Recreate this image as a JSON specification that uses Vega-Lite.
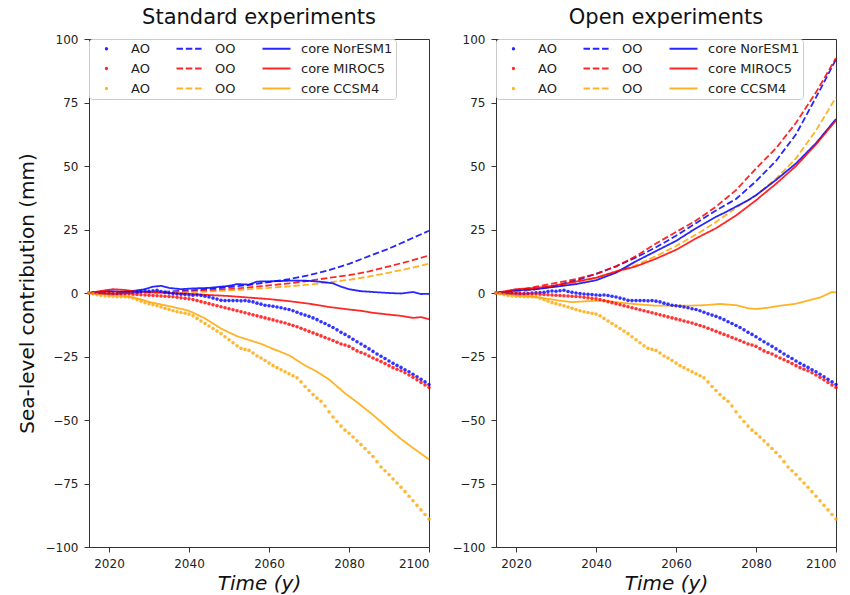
{
"$schema": "https://vega.github.io/schema/vega-lite/v6.json",
"padding": {"left": 16, "top": 6, "right": 10, "bottom": 4},
"bounds": "flush",
"spacing": 67,
"resolve": {"scale": {"color": "independent", "strokeDash": "independent"}, "legend": {"color": "independent"}},
"config": {
  "font": "DejaVu Sans",
  "view": {"stroke": "#333", "strokeWidth": 1},
  "axis": {"grid": false, "domainColor": "#333", "tickColor": "#333", "labelColor": "#222", "labelFont": "DejaVu Sans", "labelFontSize": 12, "tickSize": 5, "labelPadding": 6, "titleFont": "DejaVu Sans", "titleFontSize": 20, "titleFontWeight": "normal", "titleColor": "#111"},
  "title": {"fontSize": 21, "fontWeight": "normal", "font": "DejaVu Sans", "color": "#111", "offset": 5},
  "legend": {"title": null, "orient": "top-left", "offset": 0, "columns": 3, "columnPadding": 22, "rowPadding": 6, "labelFontSize": 13, "labelFont": "DejaVu Sans", "labelColor": "#222", "labelOffset": 18, "symbolSize": 100, "symbolOffset": 8, "symbolStrokeWidth": 1.8, "symbolOpacity": 0.85, "padding": 3, "fillColor": "white", "strokeColor": "#cccccc", "cornerRadius": 3}
},
"datasets": {
"ao": [
{"k":"bA","t":2015,"v":0},{"k":"bA","t":2016,"v":0},{"k":"bA","t":2017,"v":-0.2},{"k":"bA","t":2018,"v":-0.3},{"k":"bA","t":2019,"v":-0.2},{"k":"bA","t":2020,"v":-0.3},{"k":"bA","t":2021,"v":-0.4},{"k":"bA","t":2022,"v":-0.3},{"k":"bA","t":2023,"v":-0.2},{"k":"bA","t":2024,"v":0},{"k":"bA","t":2025,"v":0.1},{"k":"bA","t":2026,"v":0.2},{"k":"bA","t":2027,"v":0.3},{"k":"bA","t":2028,"v":0.6},{"k":"bA","t":2029,"v":0.8},{"k":"bA","t":2030,"v":0.7},{"k":"bA","t":2031,"v":0.9},{"k":"bA","t":2032,"v":1.1},{"k":"bA","t":2033,"v":0.6},{"k":"bA","t":2034,"v":0.3},{"k":"bA","t":2035,"v":0},{"k":"bA","t":2036,"v":-0.2},{"k":"bA","t":2037,"v":-0.4},{"k":"bA","t":2038,"v":-0.5},{"k":"bA","t":2039,"v":-0.6},{"k":"bA","t":2040,"v":-0.8},{"k":"bA","t":2041,"v":-0.9},{"k":"bA","t":2042,"v":-0.8},{"k":"bA","t":2043,"v":-1.0},{"k":"bA","t":2044,"v":-1.3},{"k":"bA","t":2045,"v":-1.6},{"k":"bA","t":2046,"v":-2.0},{"k":"bA","t":2047,"v":-2.4},{"k":"bA","t":2048,"v":-2.9},{"k":"bA","t":2049,"v":-3.0},{"k":"bA","t":2050,"v":-3.0},{"k":"bA","t":2051,"v":-3.0},{"k":"bA","t":2052,"v":-3.0},{"k":"bA","t":2053,"v":-3.1},{"k":"bA","t":2054,"v":-3.0},{"k":"bA","t":2055,"v":-3.2},{"k":"bA","t":2056,"v":-3.5},{"k":"bA","t":2057,"v":-4.0},{"k":"bA","t":2058,"v":-4.4},{"k":"bA","t":2059,"v":-4.8},{"k":"bA","t":2060,"v":-5.0},{"k":"bA","t":2061,"v":-5.2},{"k":"bA","t":2062,"v":-5.5},{"k":"bA","t":2063,"v":-5.8},{"k":"bA","t":2064,"v":-6.2},{"k":"bA","t":2065,"v":-6.5},{"k":"bA","t":2066,"v":-7.0},{"k":"bA","t":2067,"v":-7.6},{"k":"bA","t":2068,"v":-8.2},{"k":"bA","t":2069,"v":-8.7},{"k":"bA","t":2070,"v":-9.2},{"k":"bA","t":2071,"v":-9.8},{"k":"bA","t":2072,"v":-10.5},{"k":"bA","t":2073,"v":-11.3},{"k":"bA","t":2074,"v":-12.0},{"k":"bA","t":2075,"v":-12.8},{"k":"bA","t":2076,"v":-13.6},{"k":"bA","t":2077,"v":-14.5},{"k":"bA","t":2078,"v":-15.5},{"k":"bA","t":2079,"v":-16.3},{"k":"bA","t":2080,"v":-17.2},{"k":"bA","t":2081,"v":-18.2},{"k":"bA","t":2082,"v":-19.2},{"k":"bA","t":2083,"v":-20.1},{"k":"bA","t":2084,"v":-21.0},{"k":"bA","t":2085,"v":-22.0},{"k":"bA","t":2086,"v":-23.0},{"k":"bA","t":2087,"v":-24.0},{"k":"bA","t":2088,"v":-24.9},{"k":"bA","t":2089,"v":-25.8},{"k":"bA","t":2090,"v":-26.8},{"k":"bA","t":2091,"v":-27.7},{"k":"bA","t":2092,"v":-28.5},{"k":"bA","t":2093,"v":-29.3},{"k":"bA","t":2094,"v":-30.2},{"k":"bA","t":2095,"v":-31.0},{"k":"bA","t":2096,"v":-32.0},{"k":"bA","t":2097,"v":-33.0},{"k":"bA","t":2098,"v":-34.0},{"k":"bA","t":2099,"v":-35.0},{"k":"bA","t":2100,"v":-36.0},
{"k":"rA","t":2015,"v":0},{"k":"rA","t":2016,"v":0},{"k":"rA","t":2017,"v":0},{"k":"rA","t":2018,"v":-0.1},{"k":"rA","t":2019,"v":-0.1},{"k":"rA","t":2020,"v":-0.2},{"k":"rA","t":2021,"v":-0.2},{"k":"rA","t":2022,"v":-0.3},{"k":"rA","t":2023,"v":-0.3},{"k":"rA","t":2024,"v":-0.4},{"k":"rA","t":2025,"v":-0.4},{"k":"rA","t":2026,"v":-0.5},{"k":"rA","t":2027,"v":-0.6},{"k":"rA","t":2028,"v":-0.7},{"k":"rA","t":2029,"v":-0.8},{"k":"rA","t":2030,"v":-0.9},{"k":"rA","t":2031,"v":-1.0},{"k":"rA","t":2032,"v":-1.1},{"k":"rA","t":2033,"v":-1.2},{"k":"rA","t":2034,"v":-1.3},{"k":"rA","t":2035,"v":-1.4},{"k":"rA","t":2036,"v":-1.5},{"k":"rA","t":2037,"v":-1.7},{"k":"rA","t":2038,"v":-1.9},{"k":"rA","t":2039,"v":-2.1},{"k":"rA","t":2040,"v":-2.3},{"k":"rA","t":2041,"v":-2.6},{"k":"rA","t":2042,"v":-3.0},{"k":"rA","t":2043,"v":-3.4},{"k":"rA","t":2044,"v":-3.8},{"k":"rA","t":2045,"v":-4.2},{"k":"rA","t":2046,"v":-4.6},{"k":"rA","t":2047,"v":-5.0},{"k":"rA","t":2048,"v":-5.4},{"k":"rA","t":2049,"v":-5.8},{"k":"rA","t":2050,"v":-6.2},{"k":"rA","t":2051,"v":-6.6},{"k":"rA","t":2052,"v":-7.0},{"k":"rA","t":2053,"v":-7.4},{"k":"rA","t":2054,"v":-7.8},{"k":"rA","t":2055,"v":-8.2},{"k":"rA","t":2056,"v":-8.6},{"k":"rA","t":2057,"v":-9.0},{"k":"rA","t":2058,"v":-9.4},{"k":"rA","t":2059,"v":-9.8},{"k":"rA","t":2060,"v":-10.2},{"k":"rA","t":2061,"v":-10.6},{"k":"rA","t":2062,"v":-11.0},{"k":"rA","t":2063,"v":-11.4},{"k":"rA","t":2064,"v":-11.8},{"k":"rA","t":2065,"v":-12.3},{"k":"rA","t":2066,"v":-12.8},{"k":"rA","t":2067,"v":-13.3},{"k":"rA","t":2068,"v":-13.9},{"k":"rA","t":2069,"v":-14.5},{"k":"rA","t":2070,"v":-15.1},{"k":"rA","t":2071,"v":-15.7},{"k":"rA","t":2072,"v":-16.3},{"k":"rA","t":2073,"v":-16.9},{"k":"rA","t":2074,"v":-17.5},{"k":"rA","t":2075,"v":-18.1},{"k":"rA","t":2076,"v":-18.7},{"k":"rA","t":2077,"v":-19.4},{"k":"rA","t":2078,"v":-20.1},{"k":"rA","t":2079,"v":-20.5},{"k":"rA","t":2080,"v":-21.0},{"k":"rA","t":2081,"v":-21.9},{"k":"rA","t":2082,"v":-22.8},{"k":"rA","t":2083,"v":-23.4},{"k":"rA","t":2084,"v":-24.0},{"k":"rA","t":2085,"v":-24.8},{"k":"rA","t":2086,"v":-25.6},{"k":"rA","t":2087,"v":-26.3},{"k":"rA","t":2088,"v":-27.0},{"k":"rA","t":2089,"v":-27.8},{"k":"rA","t":2090,"v":-28.6},{"k":"rA","t":2091,"v":-29.4},{"k":"rA","t":2092,"v":-30.0},{"k":"rA","t":2093,"v":-30.6},{"k":"rA","t":2094,"v":-31.4},{"k":"rA","t":2095,"v":-32.3},{"k":"rA","t":2096,"v":-33.2},{"k":"rA","t":2097,"v":-34.2},{"k":"rA","t":2098,"v":-35.2},{"k":"rA","t":2099,"v":-36.2},{"k":"rA","t":2100,"v":-37.2},
{"k":"oA","t":2015,"v":0},{"k":"oA","t":2016,"v":-0.3},{"k":"oA","t":2017,"v":-0.7},{"k":"oA","t":2018,"v":-1.0},{"k":"oA","t":2019,"v":-1.2},{"k":"oA","t":2020,"v":-1.3},{"k":"oA","t":2021,"v":-1.4},{"k":"oA","t":2022,"v":-1.5},{"k":"oA","t":2023,"v":-1.5},{"k":"oA","t":2024,"v":-1.5},{"k":"oA","t":2025,"v":-1.6},{"k":"oA","t":2026,"v":-2.0},{"k":"oA","t":2027,"v":-2.6},{"k":"oA","t":2028,"v":-3.2},{"k":"oA","t":2029,"v":-3.8},{"k":"oA","t":2030,"v":-4.2},{"k":"oA","t":2031,"v":-4.6},{"k":"oA","t":2032,"v":-5.0},{"k":"oA","t":2033,"v":-5.5},{"k":"oA","t":2034,"v":-6.0},{"k":"oA","t":2035,"v":-6.5},{"k":"oA","t":2036,"v":-7.0},{"k":"oA","t":2037,"v":-7.4},{"k":"oA","t":2038,"v":-7.7},{"k":"oA","t":2039,"v":-8.0},{"k":"oA","t":2040,"v":-8.3},{"k":"oA","t":2041,"v":-9.0},{"k":"oA","t":2042,"v":-10.0},{"k":"oA","t":2043,"v":-11.0},{"k":"oA","t":2044,"v":-12.0},{"k":"oA","t":2045,"v":-13.0},{"k":"oA","t":2046,"v":-14.0},{"k":"oA","t":2047,"v":-15.0},{"k":"oA","t":2048,"v":-16.0},{"k":"oA","t":2049,"v":-17.2},{"k":"oA","t":2050,"v":-18.4},{"k":"oA","t":2051,"v":-19.6},{"k":"oA","t":2052,"v":-20.8},{"k":"oA","t":2053,"v":-21.8},{"k":"oA","t":2054,"v":-22.2},{"k":"oA","t":2055,"v":-22.6},{"k":"oA","t":2056,"v":-23.6},{"k":"oA","t":2057,"v":-24.8},{"k":"oA","t":2058,"v":-25.6},{"k":"oA","t":2059,"v":-26.6},{"k":"oA","t":2060,"v":-27.6},{"k":"oA","t":2061,"v":-28.6},{"k":"oA","t":2062,"v":-29.4},{"k":"oA","t":2063,"v":-30.2},{"k":"oA","t":2064,"v":-31.0},{"k":"oA","t":2065,"v":-31.8},{"k":"oA","t":2066,"v":-32.6},{"k":"oA","t":2067,"v":-33.4},{"k":"oA","t":2068,"v":-35.0},{"k":"oA","t":2069,"v":-36.8},{"k":"oA","t":2070,"v":-38.4},{"k":"oA","t":2071,"v":-40.0},{"k":"oA","t":2072,"v":-41.4},{"k":"oA","t":2073,"v":-42.6},{"k":"oA","t":2074,"v":-44.5},{"k":"oA","t":2075,"v":-46.8},{"k":"oA","t":2076,"v":-48.8},{"k":"oA","t":2077,"v":-50.6},{"k":"oA","t":2078,"v":-52.4},{"k":"oA","t":2079,"v":-54.0},{"k":"oA","t":2080,"v":-55.2},{"k":"oA","t":2081,"v":-56.7},{"k":"oA","t":2082,"v":-58.2},{"k":"oA","t":2083,"v":-59.7},{"k":"oA","t":2084,"v":-61.2},{"k":"oA","t":2085,"v":-62.8},{"k":"oA","t":2086,"v":-64.4},{"k":"oA","t":2087,"v":-66.4},{"k":"oA","t":2088,"v":-68.5},{"k":"oA","t":2089,"v":-70.0},{"k":"oA","t":2090,"v":-71.5},{"k":"oA","t":2091,"v":-73.2},{"k":"oA","t":2092,"v":-74.8},{"k":"oA","t":2093,"v":-76.5},{"k":"oA","t":2094,"v":-78.2},{"k":"oA","t":2095,"v":-80.0},{"k":"oA","t":2096,"v":-81.8},{"k":"oA","t":2097,"v":-83.6},{"k":"oA","t":2098,"v":-85.4},{"k":"oA","t":2099,"v":-87.2},{"k":"oA","t":2100,"v":-89.0}
],
"std": [
{"k":"bO","t":2015,"v":0},{"k":"bO","t":2020,"v":0},{"k":"bO","t":2025,"v":0.2},{"k":"bO","t":2030,"v":0.4},{"k":"bO","t":2035,"v":0.6},{"k":"bO","t":2040,"v":1},{"k":"bO","t":2045,"v":1.5},{"k":"bO","t":2050,"v":2.3},{"k":"bO","t":2055,"v":3.2},{"k":"bO","t":2060,"v":4.3},{"k":"bO","t":2065,"v":5.5},{"k":"bO","t":2070,"v":7},{"k":"bO","t":2075,"v":9},{"k":"bO","t":2080,"v":11.5},{"k":"bO","t":2085,"v":14.5},{"k":"bO","t":2090,"v":17.5},{"k":"bO","t":2095,"v":21},{"k":"bO","t":2100,"v":24.5},
{"k":"rO","t":2015,"v":0},{"k":"rO","t":2020,"v":0.1},{"k":"rO","t":2025,"v":0.2},{"k":"rO","t":2030,"v":0.3},{"k":"rO","t":2035,"v":0.4},{"k":"rO","t":2040,"v":0.6},{"k":"rO","t":2045,"v":1},{"k":"rO","t":2050,"v":1.5},{"k":"rO","t":2055,"v":2.2},{"k":"rO","t":2060,"v":3},{"k":"rO","t":2065,"v":3.8},{"k":"rO","t":2070,"v":4.8},{"k":"rO","t":2075,"v":6},{"k":"rO","t":2080,"v":7},{"k":"rO","t":2085,"v":8.5},{"k":"rO","t":2090,"v":10.5},{"k":"rO","t":2095,"v":12.5},{"k":"rO","t":2100,"v":14.8},
{"k":"oO","t":2015,"v":0},{"k":"oO","t":2020,"v":0},{"k":"oO","t":2025,"v":0.1},{"k":"oO","t":2030,"v":0.2},{"k":"oO","t":2035,"v":0.2},{"k":"oO","t":2040,"v":0.3},{"k":"oO","t":2045,"v":0.6},{"k":"oO","t":2050,"v":1},{"k":"oO","t":2055,"v":1.5},{"k":"oO","t":2060,"v":2},{"k":"oO","t":2065,"v":2.6},{"k":"oO","t":2070,"v":3.3},{"k":"oO","t":2075,"v":4.2},{"k":"oO","t":2080,"v":5.2},{"k":"oO","t":2085,"v":6.5},{"k":"oO","t":2090,"v":8},{"k":"oO","t":2095,"v":9.7},{"k":"oO","t":2100,"v":11.5},
{"k":"bC","t":2015,"v":0},{"k":"bC","t":2018,"v":0.5},{"k":"bC","t":2020,"v":0.8},{"k":"bC","t":2023,"v":0.5},{"k":"bC","t":2026,"v":0.8},{"k":"bC","t":2029,"v":1.5},{"k":"bC","t":2031,"v":2.5},{"k":"bC","t":2033,"v":2.8},{"k":"bC","t":2035,"v":2},{"k":"bC","t":2038,"v":1.5},{"k":"bC","t":2041,"v":1.8},{"k":"bC","t":2045,"v":2},{"k":"bC","t":2048,"v":2.5},{"k":"bC","t":2050,"v":2.8},{"k":"bC","t":2052,"v":3.5},{"k":"bC","t":2055,"v":3.3},{"k":"bC","t":2057,"v":4.5},{"k":"bC","t":2060,"v":4.6},{"k":"bC","t":2063,"v":4.7},{"k":"bC","t":2066,"v":4.9},{"k":"bC","t":2070,"v":4.8},{"k":"bC","t":2073,"v":4.4},{"k":"bC","t":2076,"v":3.8},{"k":"bC","t":2078,"v":2.5},{"k":"bC","t":2080,"v":1.5},{"k":"bC","t":2083,"v":0.7},{"k":"bC","t":2086,"v":0.4},{"k":"bC","t":2090,"v":0},{"k":"bC","t":2093,"v":-0.2},{"k":"bC","t":2096,"v":0.4},{"k":"bC","t":2098,"v":-0.4},{"k":"bC","t":2100,"v":-0.3},
{"k":"rC","t":2015,"v":0},{"k":"rC","t":2018,"v":0.8},{"k":"rC","t":2021,"v":1.5},{"k":"rC","t":2024,"v":1.2},{"k":"rC","t":2027,"v":0.5},{"k":"rC","t":2030,"v":0.3},{"k":"rC","t":2035,"v":0},{"k":"rC","t":2040,"v":-0.3},{"k":"rC","t":2045,"v":-0.8},{"k":"rC","t":2050,"v":-1.2},{"k":"rC","t":2055,"v":-1.8},{"k":"rC","t":2060,"v":-2.4},{"k":"rC","t":2065,"v":-3.2},{"k":"rC","t":2070,"v":-4.2},{"k":"rC","t":2075,"v":-5.5},{"k":"rC","t":2080,"v":-6.5},{"k":"rC","t":2083,"v":-7},{"k":"rC","t":2086,"v":-7.8},{"k":"rC","t":2090,"v":-8.5},{"k":"rC","t":2093,"v":-9},{"k":"rC","t":2096,"v":-9.8},{"k":"rC","t":2098,"v":-9.5},{"k":"rC","t":2100,"v":-10.3},
{"k":"oC","t":2015,"v":0},{"k":"oC","t":2018,"v":-0.3},{"k":"oC","t":2020,"v":-0.8},{"k":"oC","t":2023,"v":-1},{"k":"oC","t":2026,"v":-1.8},{"k":"oC","t":2028,"v":-2.5},{"k":"oC","t":2030,"v":-3.5},{"k":"oC","t":2033,"v":-4.5},{"k":"oC","t":2036,"v":-5.5},{"k":"oC","t":2040,"v":-7},{"k":"oC","t":2044,"v":-10},{"k":"oC","t":2048,"v":-14},{"k":"oC","t":2052,"v":-17},{"k":"oC","t":2055,"v":-18.5},{"k":"oC","t":2058,"v":-20},{"k":"oC","t":2061,"v":-22},{"k":"oC","t":2065,"v":-24.5},{"k":"oC","t":2069,"v":-28.5},{"k":"oC","t":2072,"v":-31},{"k":"oC","t":2075,"v":-34},{"k":"oC","t":2079,"v":-39.5},{"k":"oC","t":2082,"v":-43},{"k":"oC","t":2086,"v":-48},{"k":"oC","t":2090,"v":-53.5},{"k":"oC","t":2093,"v":-57.5},{"k":"oC","t":2096,"v":-61},{"k":"oC","t":2100,"v":-65.5}
],
"open": [
{"k":"bO","t":2015,"v":0},{"k":"bO","t":2020,"v":0.5},{"k":"bO","t":2025,"v":1.5},{"k":"bO","t":2030,"v":3},{"k":"bO","t":2035,"v":5},{"k":"bO","t":2040,"v":7.5},{"k":"bO","t":2045,"v":10.5},{"k":"bO","t":2050,"v":14},{"k":"bO","t":2055,"v":18},{"k":"bO","t":2060,"v":22.5},{"k":"bO","t":2065,"v":27.5},{"k":"bO","t":2070,"v":32.5},{"k":"bO","t":2075,"v":37},{"k":"bO","t":2080,"v":44},{"k":"bO","t":2085,"v":52},{"k":"bO","t":2090,"v":62.5},{"k":"bO","t":2095,"v":77},{"k":"bO","t":2100,"v":92},
{"k":"rO","t":2015,"v":0},{"k":"rO","t":2020,"v":1},{"k":"rO","t":2025,"v":2.5},{"k":"rO","t":2030,"v":4},{"k":"rO","t":2035,"v":5.5},{"k":"rO","t":2040,"v":7.5},{"k":"rO","t":2045,"v":10.5},{"k":"rO","t":2050,"v":14.5},{"k":"rO","t":2055,"v":19.5},{"k":"rO","t":2060,"v":24},{"k":"rO","t":2065,"v":28.5},{"k":"rO","t":2070,"v":34},{"k":"rO","t":2075,"v":40.5},{"k":"rO","t":2080,"v":49},{"k":"rO","t":2085,"v":57},{"k":"rO","t":2090,"v":67},{"k":"rO","t":2095,"v":79},{"k":"rO","t":2100,"v":92.5},
{"k":"oO","t":2015,"v":0},{"k":"oO","t":2020,"v":0.5},{"k":"oO","t":2025,"v":1.5},{"k":"oO","t":2030,"v":2.5},{"k":"oO","t":2035,"v":4},{"k":"oO","t":2040,"v":6},{"k":"oO","t":2045,"v":8},{"k":"oO","t":2050,"v":11},{"k":"oO","t":2055,"v":14.5},{"k":"oO","t":2060,"v":18.5},{"k":"oO","t":2065,"v":23},{"k":"oO","t":2070,"v":28},{"k":"oO","t":2075,"v":33.5},{"k":"oO","t":2080,"v":38.5},{"k":"oO","t":2085,"v":45},{"k":"oO","t":2090,"v":53},{"k":"oO","t":2095,"v":64},{"k":"oO","t":2100,"v":77},
{"k":"bC","t":2015,"v":0},{"k":"bC","t":2020,"v":1},{"k":"bC","t":2025,"v":1.5},{"k":"bC","t":2030,"v":2.5},{"k":"bC","t":2035,"v":3.5},{"k":"bC","t":2040,"v":5},{"k":"bC","t":2045,"v":8},{"k":"bC","t":2050,"v":12.5},{"k":"bC","t":2055,"v":16.5},{"k":"bC","t":2060,"v":20.5},{"k":"bC","t":2065,"v":25.5},{"k":"bC","t":2070,"v":30},{"k":"bC","t":2072,"v":31.5},{"k":"bC","t":2075,"v":34},{"k":"bC","t":2078,"v":36.5},{"k":"bC","t":2080,"v":38.5},{"k":"bC","t":2085,"v":44.5},{"k":"bC","t":2090,"v":51},{"k":"bC","t":2095,"v":59},{"k":"bC","t":2100,"v":68.5},
{"k":"rC","t":2015,"v":0},{"k":"rC","t":2020,"v":1.5},{"k":"rC","t":2025,"v":2},{"k":"rC","t":2030,"v":3},{"k":"rC","t":2035,"v":4.5},{"k":"rC","t":2040,"v":6},{"k":"rC","t":2045,"v":8.5},{"k":"rC","t":2050,"v":10.5},{"k":"rC","t":2055,"v":13.5},{"k":"rC","t":2060,"v":17},{"k":"rC","t":2065,"v":21.5},{"k":"rC","t":2070,"v":25.5},{"k":"rC","t":2075,"v":30.5},{"k":"rC","t":2080,"v":36.5},{"k":"rC","t":2085,"v":43},{"k":"rC","t":2090,"v":50},{"k":"rC","t":2095,"v":58.5},{"k":"rC","t":2100,"v":68},
{"k":"oC","t":2015,"v":0},{"k":"oC","t":2018,"v":-0.5},{"k":"oC","t":2020,"v":-1},{"k":"oC","t":2023,"v":-1.2},{"k":"oC","t":2026,"v":-1.8},{"k":"oC","t":2030,"v":-2.8},{"k":"oC","t":2034,"v":-3.6},{"k":"oC","t":2038,"v":-3.2},{"k":"oC","t":2042,"v":-3},{"k":"oC","t":2046,"v":-3.8},{"k":"oC","t":2050,"v":-4.4},{"k":"oC","t":2055,"v":-5},{"k":"oC","t":2060,"v":-5},{"k":"oC","t":2063,"v":-5},{"k":"oC","t":2067,"v":-4.8},{"k":"oC","t":2071,"v":-4.3},{"k":"oC","t":2075,"v":-4.8},{"k":"oC","t":2078,"v":-6},{"k":"oC","t":2080,"v":-6.3},{"k":"oC","t":2083,"v":-5.8},{"k":"oC","t":2086,"v":-5},{"k":"oC","t":2090,"v":-4.2},{"k":"oC","t":2093,"v":-3},{"k":"oC","t":2096,"v":-1.8},{"k":"oC","t":2099,"v":0.4},{"k":"oC","t":2100,"v":0.2}
]
},
"hconcat": [
{
 "title": "Standard experiments",
 "width": 340, "height": 508,
 "layer": [
  {
   "data": {"name": "std"},
   "mark": {"type": "line", "strokeWidth": 1.8, "opacity": 0.85},
   "encoding": {
    "x": {"field": "t", "type": "quantitative", "scale": {"domain": [2015, 2100], "nice": false, "zero": false}, "axis": {"values": [2020, 2040, 2060, 2080, 2100], "format": "d", "title": "Time (y)", "titleFontStyle": "italic", "titlePadding": 4}},
    "y": {"field": "v", "type": "quantitative", "scale": {"domain": [-100, 100], "nice": false}, "axis": {"values": [-100, -75, -50, -25, 0, 25, 50, 75, 100], "title": "Sea-level contribution (mm)", "titlePadding": 8}},
    "color": {"field": "k", "type": "nominal", "scale": {"domain": ["bA","rA","oA","bO","rO","oO","bC","rC","oC"], "range": ["#0000ff","#ff0000","#ffa500","#0000ff","#ff0000","#ffa500","#0000ff","#ff0000","#ffa500"]},
     "legend": {"labelExpr": "substring(datum.value,1,2)=='A' ? 'AO' : substring(datum.value,1,2)=='O' ? 'OO' : datum.value=='bC' ? 'core NorESM1' : datum.value=='rC' ? 'core MIROC5' : 'core CCSM4'",
      "symbolType": {"expr": "substring(datum.value,1,2)=='A' ? 'M-0.15,0A0.15,0.15 0 1,0 0.15,0A0.15,0.15 0 1,0 -0.15,0Z' : 'M-2.8,0H2.8'"}}},
    "strokeDash": {"field": "k", "type": "nominal", "scale": {"domain": ["bA","rA","oA","bO","rO","oO","bC","rC","oC"], "range": [[1,0],[1,0],[1,0],[6.5,2.8],[6.5,2.8],[6.5,2.8],[1,0],[1,0],[1,0]]}, "legend": null}
   }
  },
  {
   "data": {"name": "ao"},
   "mark": {"type": "point", "filled": true, "shape": "circle", "size": 13, "opacity": 0.8},
   "encoding": {
    "x": {"field": "t", "type": "quantitative"},
    "y": {"field": "v", "type": "quantitative"},
    "color": {"field": "k", "type": "nominal",
     "legend": {"labelExpr": "substring(datum.value,1,2)=='A' ? 'AO' : substring(datum.value,1,2)=='O' ? 'OO' : datum.value=='bC' ? 'core NorESM1' : datum.value=='rC' ? 'core MIROC5' : 'core CCSM4'",
      "symbolType": {"expr": "substring(datum.value,1,2)=='A' ? 'M-0.15,0A0.15,0.15 0 1,0 0.15,0A0.15,0.15 0 1,0 -0.15,0Z' : 'M-2.8,0H2.8'"}}}
   }
  }
 ]
},
{
 "title": "Open experiments",
 "width": 340, "height": 508,
 "layer": [
  {
   "data": {"name": "open"},
   "mark": {"type": "line", "strokeWidth": 1.8, "opacity": 0.85},
   "encoding": {
    "x": {"field": "t", "type": "quantitative", "scale": {"domain": [2015, 2100], "nice": false, "zero": false}, "axis": {"values": [2020, 2040, 2060, 2080, 2100], "format": "d", "title": "Time (y)", "titleFontStyle": "italic", "titlePadding": 4}},
    "y": {"field": "v", "type": "quantitative", "scale": {"domain": [-100, 100], "nice": false}, "axis": {"values": [-100, -75, -50, -25, 0, 25, 50, 75, 100], "title": null}},
    "color": {"field": "k", "type": "nominal", "scale": {"domain": ["bA","rA","oA","bO","rO","oO","bC","rC","oC"], "range": ["#0000ff","#ff0000","#ffa500","#0000ff","#ff0000","#ffa500","#0000ff","#ff0000","#ffa500"]},
     "legend": {"labelExpr": "substring(datum.value,1,2)=='A' ? 'AO' : substring(datum.value,1,2)=='O' ? 'OO' : datum.value=='bC' ? 'core NorESM1' : datum.value=='rC' ? 'core MIROC5' : 'core CCSM4'",
      "symbolType": {"expr": "substring(datum.value,1,2)=='A' ? 'M-0.15,0A0.15,0.15 0 1,0 0.15,0A0.15,0.15 0 1,0 -0.15,0Z' : 'M-2.8,0H2.8'"}}},
    "strokeDash": {"field": "k", "type": "nominal", "scale": {"domain": ["bA","rA","oA","bO","rO","oO","bC","rC","oC"], "range": [[1,0],[1,0],[1,0],[6.5,2.8],[6.5,2.8],[6.5,2.8],[1,0],[1,0],[1,0]]}, "legend": null}
   }
  },
  {
   "data": {"name": "ao"},
   "mark": {"type": "point", "filled": true, "shape": "circle", "size": 13, "opacity": 0.8},
   "encoding": {
    "x": {"field": "t", "type": "quantitative"},
    "y": {"field": "v", "type": "quantitative"},
    "color": {"field": "k", "type": "nominal",
     "legend": {"labelExpr": "substring(datum.value,1,2)=='A' ? 'AO' : substring(datum.value,1,2)=='O' ? 'OO' : datum.value=='bC' ? 'core NorESM1' : datum.value=='rC' ? 'core MIROC5' : 'core CCSM4'",
      "symbolType": {"expr": "substring(datum.value,1,2)=='A' ? 'M-0.15,0A0.15,0.15 0 1,0 0.15,0A0.15,0.15 0 1,0 -0.15,0Z' : 'M-2.8,0H2.8'"}}}
   }
  }
 ]
}
]
}
